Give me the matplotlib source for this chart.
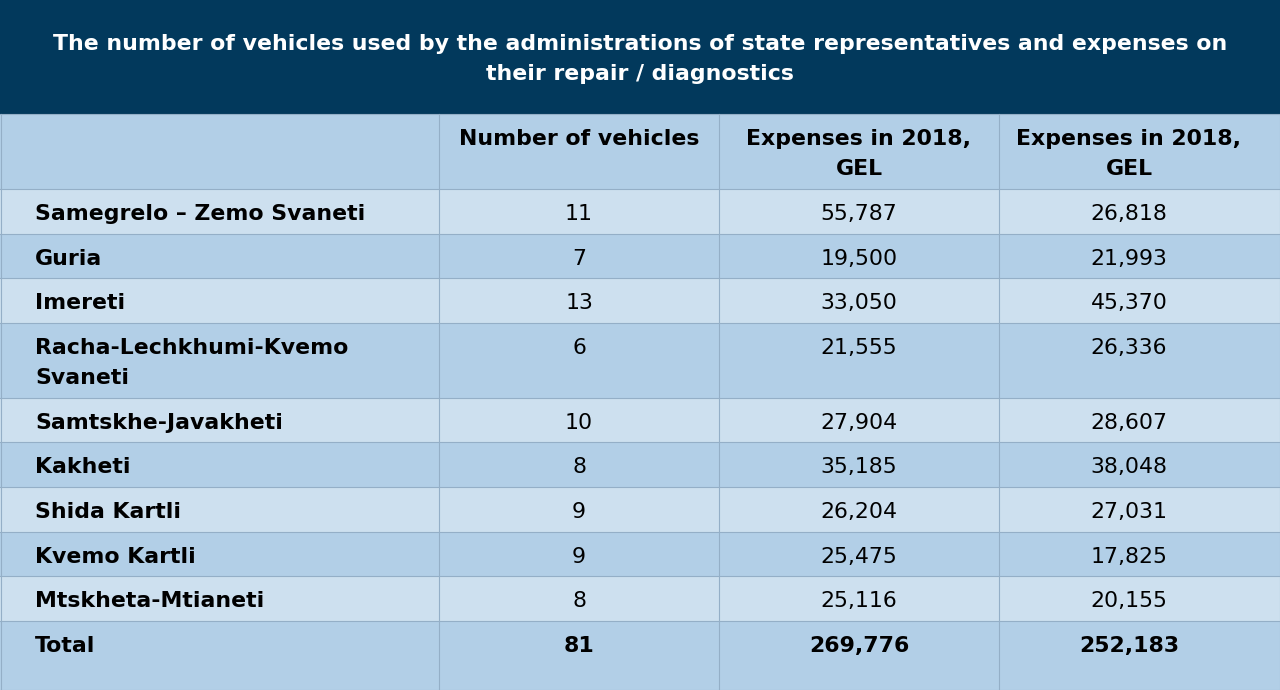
import matplotlib
matplotlib.use("Agg")
import matplotlib.pyplot as plt
from matplotlib.patches import Rectangle

title = ["The number of vehicles used by the administrations of state representatives and expenses on",
         "their repair / diagnostics"]
columns = ["", "Number of vehicles", "Expenses in 2018,\nGEL", "Expenses in 2018,\nGEL"]
regions = ["Samegrelo – Zemo Svaneti", "Guria", "Imereti", "Racha-Lechkhumi-Kvemo\nSvaneti",
           "Samtskhe-Javakheti", "Kakheti", "Shida Kartli", "Kvemo Kartli", "Mtskheta-Mtianeti"]
vehicles = [11, 7, 13, 6, 10, 8, 9, 9, 8]
expenses_a = [55787, 19500, 33050, 21555, 27904, 35185, 26204, 25475, 25116]
expenses_b = [26818, 21993, 45370, 26336, 28607, 38048, 27031, 17825, 20155]
total_label = "Total"
totals = [81, 269776, 252183]

W, H = 1280, 690
fig = plt.figure(figsize=(12.8, 6.9), dpi=100)
ax = fig.add_axes([0, 0, 1, 1])
ax.set_xlim(0, W)
ax.set_ylim(H, 0)
ax.axis("off")

NAVY = "#02395c"
DARK = "#b2cfe7"
LIGHT = "#cde0ef"
GRID = "#94afc7"

col_x = [0, 439, 719, 999, 1280]
col_center = [None, 579, 859, 1129]
title_h = 114
header_h = 75
single_h = 44.6
double_h = 75
total_h = 69
fs = 15.8
pitch = 30
first_off = 25

# title band
ax.add_patch(Rectangle((0, 0), W, title_h, facecolor=NAVY, edgecolor="none"))
for i, line in enumerate(title):
    ax.text(W / 2, 44 + i * pitch, line, ha="center", va="center", color="white",
            fontsize=15.8, fontweight="bold", family="DejaVu Sans")

def draw_row(top, h, cells, color, bold_first=True, bold_all=False, header=False):
    ax.add_patch(Rectangle((0, top), W, h, facecolor=color, edgecolor="none"))
    ax.plot([0, W], [top, top], color=GRID, lw=0.8)
    for c, txt in enumerate(cells):
        weight = "bold" if (bold_all or (c == 0 and bold_first) or header) else "normal"
        lines = str(txt).split("\n")
        for k, ln in enumerate(lines):
            if c == 0:
                x, ha = 35, "left"
            else:
                x, ha = col_center[c], "center"
            ax.text(x, top + first_off + k * pitch, ln, ha=ha, va="center",
                    fontsize=fs, fontweight=weight, color="black", family="DejaVu Sans")
    return top + h

y = title_h
y = draw_row(y, header_h, columns, DARK, header=True)
for i, r in enumerate(regions):
    h = double_h if "\n" in r else single_h
    cells = [r, f"{vehicles[i]}", f"{expenses_a[i]:,}", f"{expenses_b[i]:,}"]
    y = draw_row(y, h, cells, LIGHT if i % 2 == 0 else DARK)
cells = [total_label] + [f"{v:,}" for v in totals]
y = draw_row(y, total_h, cells, DARK, bold_all=True)
ax.plot([0, W], [H - 0.5, H - 0.5], color=GRID, lw=0.8)

for cx in col_x[1:-1]:
    ax.plot([cx, cx], [title_h, H], color=GRID, lw=0.8)
ax.plot([W - 0.5, W - 0.5], [title_h, H], color=GRID, lw=0.8)
ax.plot([0.5, 0.5], [title_h, H], color=GRID, lw=0.8)

fig.savefig("out.png", dpi=100)
